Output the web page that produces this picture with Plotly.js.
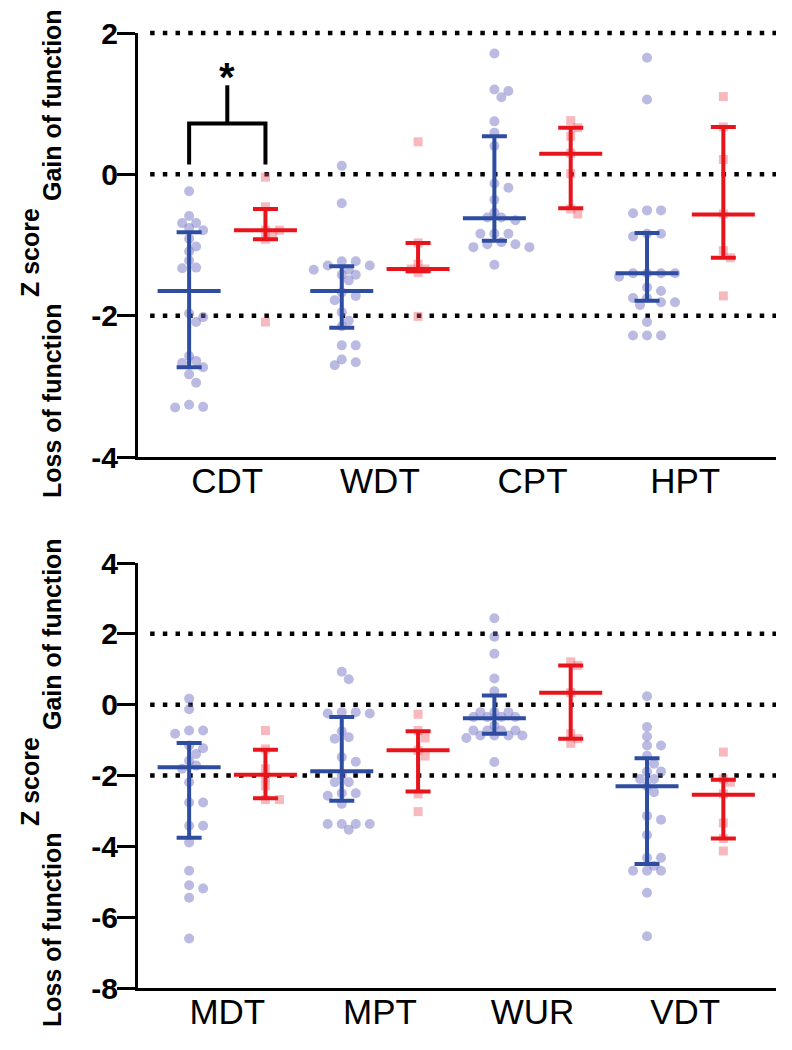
<!DOCTYPE html>
<html>
<head>
<meta charset="utf-8">
<script src="https://cdn.plot.ly/plotly-3.0.1.min.js"></script>
<style>
  body { margin: 0; background: #fff; }
  #chart { width: 792px; height: 1050px; }
</style>
</head>
<body>
<div id="chart"></div>
<script>
// categories for the two panels
const topCategories = ['CDT', 'WDT', 'CPT', 'HPT'];
const bottomCategories = ['MDT', 'MPT', 'WUR', 'VDT'];

// individual z scores, blue group (circles)
const topBlue = [
  [-0.24, -0.59, -0.69, -0.69, -0.76, -0.79, -0.91, -1.02, -1.09, -1.22, -1.32, -1.33, -1.97, -2.02, -2.09, -2.57, -2.64, -2.67, -2.73, -2.83, -2.95, -3.26, -3.30, -3.29],
  [0.12, -0.41, -1.23, -1.23, -1.29, -1.29, -1.35, -1.35, -1.42, -1.42, -1.50, -1.67, -1.72, -1.78, -1.95, -2.07, -2.15, -2.42, -2.42, -2.62, -2.66, -2.70],
  [1.71, 1.20, 1.18, 1.09, 0.75, 0.59, 0.40, -0.13, -0.19, -0.36, -0.54, -0.61, -0.61, -0.65, -0.84, -0.84, -0.84, -0.96, -0.99, -0.99, -1.03, -1.03, -1.28],
  [1.65, 1.06, -0.51, -0.51, -0.55, -0.84, -0.84, -0.88, -1.40, -1.40, -1.40, -1.40, -1.45, -1.60, -1.65, -1.75, -1.75, -1.81, -1.81, -1.85, -2.09, -2.28, -2.28, -2.28]
];
const bottomBlue = [
  [0.17, -0.13, -0.73, -0.73, -0.82, -1.15, -1.23, -1.39, -1.58, -1.72, -1.81, -2.19, -2.76, -2.76, -3.42, -3.42, -3.89, -4.69, -5.10, -5.19, -5.45, -6.60],
  [0.93, 0.72, -0.21, -0.21, -0.25, -0.25, -0.75, -0.92, -0.96, -1.48, -1.61, -2.00, -2.19, -2.19, -2.50, -2.50, -2.57, -2.80, -3.37, -3.37, -3.37, -3.37, -3.53],
  [2.44, 1.92, 1.44, 0.74, 0.38, -0.21, -0.21, -0.21, -0.35, -0.35, -0.35, -0.35, -0.59, -0.73, -0.73, -0.73, -0.73, -0.87, -0.87, -0.87, -0.87, -0.94, -1.62],
  [0.24, -0.63, -0.90, -1.15, -1.15, -1.44, -1.67, -1.89, -1.89, -2.10, -2.10, -2.30, -2.47, -3.14, -3.25, -3.68, -4.32, -4.32, -4.55, -4.69, -4.69, -4.69, -5.31, -6.54]
];

// individual z scores, red group (squares)
const topRed = [
  [-0.04, -0.46, -0.79, -0.79, -0.85, -0.92, -2.09],
  [0.46, -0.97, -1.27, -1.34, -1.34, -1.39, -2.01],
  [0.76, 0.66, 0.54, 0.30, 0.01, -0.49, -0.56],
  [1.10, 0.67, 0.21, -0.56, -1.08, -1.18, -1.72]
];
const bottomRed = [
  [-0.73, -1.25, -1.81, -2.05, -2.29, -2.68, -2.68],
  [-0.27, -0.73, -0.94, -1.29, -1.45, -2.52, -3.02],
  [1.21, 1.11, 0.34, -0.82, -0.96, -1.09],
  [-1.34, -2.10, -2.19, -2.52, -3.34, -3.78, -4.13]
];

// median and interquartile range
const topBlueMedian = [-1.65, -1.65, -0.62, -1.40];
const topBlueUpper = [-0.82, -1.30, 0.54, -0.83];
const topBlueLower = [-2.73, -2.17, -0.94, -1.79];
const topRedMedian = [-0.79, -1.34, 0.29, -0.57];
const topRedUpper = [-0.49, -0.97, 0.66, 0.67];
const topRedLower = [-0.92, -1.37, -0.48, -1.18];
const bottomBlueMedian = [-1.77, -1.88, -0.38, -2.30];
const bottomBlueUpper = [-1.08, -0.35, 0.26, -1.51];
const bottomBlueLower = [-3.76, -2.71, -0.82, -4.50];
const bottomRedMedian = [-1.98, -1.29, 0.34, -2.54];
const bottomRedUpper = [-1.27, -0.75, 1.11, -2.12];
const bottomRedLower = [-2.64, -2.45, -0.96, -3.78];

// reference lines and significance bracket (CDT)
const refLevels = [2, 0, -2];
const bracketLow = 0.14, bracketHigh = 0.72, bracketStem = 1.26, starLevel = 1.38;

// layout constants
const W = 792, H = 1050;
const M = { l: 138, r: 16, t: 33, b: 62 };
const xRange = [-0.67, 7.69];
const topDomain = [0.556, 1], bottomDomain = [0, 0.445];
const topRange = [-4, 2], bottomRange = [-8, 4];
const FONT = 'Liberation Sans, Arial, sans-serif';
const BLUE = '#2e4da0', RED = '#e8141c';

const pxPerX = (W - M.l - M.r) / (xRange[1] - xRange[0]);
const plotH = H - M.t - M.b;
function pxPerY(dom, rng) { return plotH * (dom[1] - dom[0]) / (rng[1] - rng[0]); }

// simple beeswarm: push points sideways in 7px steps until they don't overlap too much
function swarm(vals, center, sy, minDist) {
    const order = vals.map((v, i) => i).sort((a, b) => vals[b] - vals[a]);
    const placed = [];
    const xs = new Array(vals.length);
    order.forEach(i => {
        const py = vals[i] * sy;
        for (let k = 0; k < 20; k++) {
            const cands = k === 0 ? [0] : [k * 7, -k * 7];
            const ok = cands.find(px => placed.every(p => Math.hypot(px - p.x, py - p.y) >= minDist));
            if (ok !== undefined) {
                placed.push({ x: ok, y: py });
                xs[i] = center + ok / pxPerX;
                return;
            }
        }
    });
    return xs;
}

function panelTraces(blue, red, bMed, bUp, bLo, rMed, rUp, rLo, xa, ya, sy) {
    const bx = [], by = [], rx = [], ry = [];
    blue.forEach((vals, i) => {
        bx.push(...swarm(vals, 2 * i, sy, 8.5));
        by.push(...vals);
    });
    red.forEach((vals, i) => {
        rx.push(...swarm(vals, 2 * i + 1, sy, 7.5));
        ry.push(...vals);
    });
    const pos = [0, 1, 2, 3];
    const summary = (xs, med, up, lo, color) => ({
        x: xs, y: med, xaxis: xa, yaxis: ya, type: 'scatter', mode: 'markers',
        marker: { symbol: 'line-ew', size: 45, line: { width: 4, color: color } },
        error_y: {
            type: 'data', symmetric: false,
            array: up.map((u, i) => u - med[i]),
            arrayminus: lo.map((l, i) => med[i] - l),
            color: color, thickness: 4, width: 12.5
        },
        hoverinfo: 'skip'
    });
    return [
        { x: bx, y: by, xaxis: xa, yaxis: ya, type: 'scatter', mode: 'markers',
          marker: { symbol: 'circle', size: 10, color: 'rgba(110,110,195,0.48)' } },
        { x: rx, y: ry, xaxis: xa, yaxis: ya, type: 'scatter', mode: 'markers',
          marker: { symbol: 'square', size: 9, color: 'rgba(235,80,90,0.4)' } },
        summary(pos.map(p => 2 * p), bMed, bUp, bLo, BLUE),
        summary(pos.map(p => 2 * p + 1), rMed, rUp, rLo, RED)
    ];
}

const data = [
    ...panelTraces(topBlue, topRed, topBlueMedian, topBlueUpper, topBlueLower,
        topRedMedian, topRedUpper, topRedLower, 'x', 'y', pxPerY(topDomain, topRange)),
    ...panelTraces(bottomBlue, bottomRed, bottomBlueMedian, bottomBlueUpper, bottomBlueLower,
        bottomRedMedian, bottomRedUpper, bottomRedLower, 'x2', 'y2', pxPerY(bottomDomain, bottomRange))
];

const xAxis = (anchor, cats) => ({
    anchor: anchor, range: xRange, showgrid: false, zeroline: false,
    showline: true, linewidth: 3, linecolor: 'black', ticks: '',
    tickvals: [0.5, 2.5, 4.5, 6.5], ticktext: cats, ticklabelstandoff: -9,
    tickfont: { family: FONT, size: 35, color: 'black' }
});
const yAxis = (anchor, dom, rng, ticks) => ({
    anchor: anchor, domain: dom, range: rng, showgrid: false, zeroline: false,
    showline: true, linewidth: 3, linecolor: 'black',
    ticks: 'outside', ticklen: 18, tickwidth: 3, tickcolor: 'black',
    tickvals: ticks, ticktext: ticks.map(String), ticklabelstandoff: -7,
    tickfont: { family: FONT, size: 30, color: 'black', weight: 'bold' }
});

// dotted reference lines, placed in domain units so they are not clipped at the panel edge
const shapes = [];
[['x', 'y', topRange], ['x2', 'y2', bottomRange]].forEach(([xa, ya, rng]) => {
    refLevels.forEach(v => {
        const f = (v - rng[0]) / (rng[1] - rng[0]);
        shapes.push({
            type: 'line', xref: xa + ' domain', yref: ya + ' domain', x0: 0.019, x1: 1, y0: f, y1: f,
            line: { color: 'black', width: 4.5, dash: '4.5px,8.2px' }, layer: 'below'
        });
    });
});
shapes.push({
    type: 'path', xref: 'x', yref: 'y',
    path: `M 0,${bracketLow} L 0,${bracketHigh} L 1,${bracketHigh} L 1,${bracketLow}`,
    line: { color: 'black', width: 4 }
});
shapes.push({
    type: 'line', xref: 'x', yref: 'y', x0: 0.5, x1: 0.5, y0: bracketHigh, y1: bracketStem,
    line: { color: 'black', width: 4 }
});

// y titles, paper coordinates from pixel positions
const px2x = px => (px - M.l) / (W - M.l - M.r);
const py2y = py => (H - M.b - py) / plotH;
const titleFont = { family: FONT, size: 25, color: 'black', weight: 'bold' };
const annotations = [];
const yTitle = (px, py, text) => ({
    xref: 'paper', yref: 'paper', x: px2x(px), y: py2y(py), text: text,
    xanchor: 'center', yanchor: 'middle', textangle: -90, showarrow: false, font: titleFont
});
[253, 782].forEach(c => {
    annotations.push(yTitle(30, c, 'Z score'));
    annotations.push(yTitle(52, c - 148, 'Gain of function'));
    annotations.push(yTitle(52, c + 148, 'Loss of function'));
});
annotations.push({ xref: 'x', yref: 'y', x: 0.5, y: starLevel, text: '*', showarrow: false,
    font: { family: FONT, size: 40, color: 'black', weight: 'bold' } });

const layout = {
    width: W, height: H, margin: M, showlegend: false,
    paper_bgcolor: 'white', plot_bgcolor: 'white',
    xaxis: xAxis('y', topCategories),
    xaxis2: xAxis('y2', bottomCategories),
    yaxis: yAxis('x', topDomain, topRange, [-4, -2, 0, 2]),
    yaxis2: yAxis('x2', bottomDomain, bottomRange, [-8, -6, -4, -2, 0, 2, 4]),
    shapes: shapes,
    annotations: annotations
};

Plotly.newPlot('chart', data, layout, { displayModeBar: false, staticPlot: true });
</script>
</body>
</html>
